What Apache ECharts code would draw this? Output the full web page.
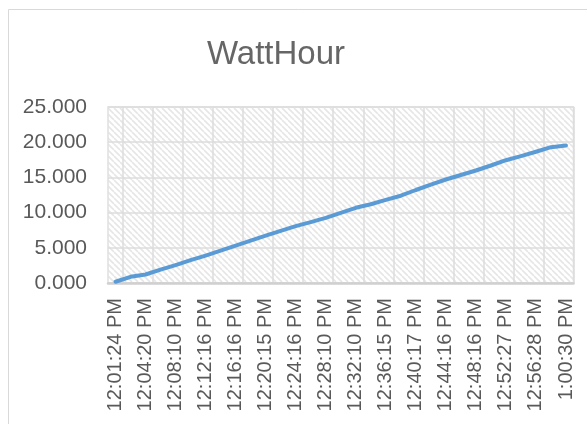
<!DOCTYPE html>
<html>
<head>
<meta charset="utf-8">
<script src="https://cdn.jsdelivr.net/npm/echarts@6/dist/echarts.min.js"></script>
<style>
  html, body { margin: 0; padding: 0; background: #fff; }
  #chart { width: 587px; height: 424px; }
</style>
</head>
<body>
<div id="chart"></div>
<script>
// 时间分类（偶数位的才显示标签）
const times = [
  '12:01:24 PM', '12:02:50 PM', '12:04:20 PM', '12:06:15 PM', '12:08:10 PM',
  '12:10:13 PM', '12:12:16 PM', '12:14:16 PM', '12:16:16 PM', '12:18:15 PM',
  '12:20:15 PM', '12:22:16 PM', '12:24:16 PM', '12:26:13 PM', '12:28:10 PM',
  '12:30:10 PM', '12:32:10 PM', '12:34:12 PM', '12:36:15 PM', '12:38:16 PM',
  '12:40:17 PM', '12:42:16 PM', '12:44:16 PM', '12:46:16 PM', '12:48:16 PM',
  '12:50:21 PM', '12:52:27 PM', '12:54:27 PM', '12:56:28 PM', '12:58:29 PM',
  '1:00:30 PM'
];
// 电量值
const wattHour = [
  0.18, 0.88, 1.21, 1.89, 2.54, 3.24, 3.89, 4.59, 5.30, 6.03,
  6.72, 7.40, 8.07, 8.65, 9.26, 9.97, 10.68, 11.19, 11.80, 12.40,
  13.21, 13.96, 14.70, 15.34, 15.98, 16.69, 17.44, 18.03, 18.64, 19.29,
  19.53
];

// 斜线填充的绘图区背景
const tile = document.createElement('canvas');
tile.width = 6;
tile.height = 6;
const ctx = tile.getContext('2d');
ctx.fillStyle = '#ffffff';
ctx.fillRect(0, 0, 6, 6);
ctx.strokeStyle = '#e6e6e6';
ctx.lineWidth = 1.6;
[-6, 0, 6].forEach(x0 => {
  ctx.beginPath();
  ctx.moveTo(x0, 0);
  ctx.lineTo(x0 + 6, 6);
  ctx.stroke();
});

const chart = echarts.init(document.getElementById('chart'));

const option = {
  backgroundColor: '#fff',
  animation: false,
  title: {
    text: 'WattHour',
    left: 271,
    top: 33,
    textAlign: 'center',
    textStyle: {
      fontFamily: 'Liberation Sans',
      fontSize: 33,
      fontWeight: 'normal',
      color: '#666666'
    }
  },
  graphic: [{
    type: 'rect',
    shape: { x: 8.5, y: 9.5, width: 700, height: 600 },
    style: { fill: 'none', stroke: '#d9d9d9', lineWidth: 1 },
    silent: true
  }],
  grid: {
    left: 108,
    right: 13.5,
    top: 107,
    bottom: 141,
    show: true,
    backgroundColor: { image: tile, repeat: 'repeat' },
    borderColor: '#e0e0e0',
    borderWidth: 1.5
  },
  xAxis: {
    type: 'category',
    data: times,
    boundaryGap: true,
    axisLine: { lineStyle: { color: '#d0d0d0', width: 2.5 } },
    axisTick: { show: false },
    axisLabel: {
      interval: 1,
      rotate: 90,
      margin: 15,
      fontFamily: 'Liberation Sans',
      fontSize: 20,
      color: '#595959'
    },
    splitLine: {
      show: true,
      interval: (i) => i % 2 === 1,
      lineStyle: { color: '#dcdcdc', width: 1.5 }
    }
  },
  yAxis: {
    type: 'value',
    min: 0,
    max: 25,
    interval: 5,
    axisLine: { show: false },
    axisTick: { show: false },
    axisLabel: {
      margin: 21,
      fontFamily: 'Liberation Sans',
      fontSize: 21,
      color: '#595959',
      formatter: v => v.toFixed(3)
    },
    splitLine: { lineStyle: { color: '#dcdcdc', width: 1.5 } }
  },
  series: [{
    type: 'line',
    data: wattHour,
    showSymbol: false,
    smooth: false,
    lineStyle: { color: '#5b9bd5', width: 4, cap: 'round', join: 'round' }
  }]
};

chart.setOption(option);
</script>
</body>
</html>
